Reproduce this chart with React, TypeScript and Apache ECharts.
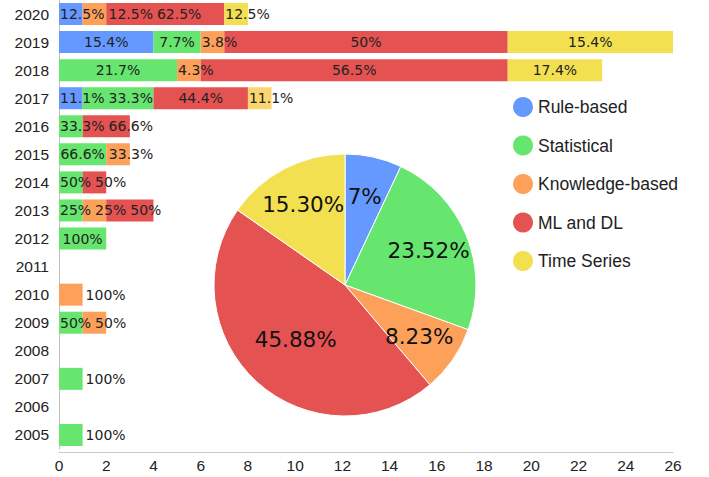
import React, { useEffect, useRef } from "react";
import * as echarts from "echarts";

const years = ["2005","2006","2007","2008","2009","2010","2011","2012","2013","2014","2015","2016","2017","2018","2019","2020"];
const seriesNames = ["Rule-based", "Statistical", "Knowledge-based", "ML and DL", "Time Series"];

const ruleBased =      [0,0,0,0,0,0,0,0,0,0,0,0,1,0,4,1];
const statistical =    [1,0,1,0,1,0,0,2,1,1,2,1,3,5,2,0];
const knowledgeBased = [0,0,0,0,1,1,0,0,1,0,1,0,0,1,1,1];
const mlDl =           [0,0,0,0,0,0,0,0,2,1,0,2,4,13,12,5];
const timeSeries =     [0,0,0,0,0,0,0,0,0,0,0,0,1,4,7,1];

const ruleLabels =      ["","","","","","","","","","","","","11.1%","","15.4%","12.5%"];
const statLabels =      ["100%","","100%","","50%","","","100%","25%","50%","66.6%","33.3%","33.3%","21.7%","7.7%",""];
const knowLabels =      ["","","","","50%","100%","","","25%","","33.3%","","","4.3%","3.8%","12.5%"];
const mlLabels =        ["","","","","","","","","50%","50%","","66.6%","44.4%","56.5%","50%","62.5%"];
const tsLabels =        ["","","","","","","","","","","","","11.1%","17.4%","15.4%","12.5%"];

const pieValues = [7, 23.52, 8.23, 45.88, 15.30];
const pieLabels = ["7%", "23.52%", "8.23%", "45.88%", "15.30%"];

const xTicks = { min: 0, max: 26, interval: 2 };

const colors = ["#6699ff", "#66e66e", "#fca05a", "#e55252", "#f2e050"];

const allValues = [ruleBased, statistical, knowledgeBased, mlDl, timeSeries];
const allLabels = [ruleLabels, statLabels, knowLabels, mlLabels, tsLabels];

const BAR_FONT = 14;
const BAR_FAMILY = "DejaVu Sans";
const PIE_CX = 345;
const PIE_CY = 285;
const PIE_R = 131;
const pieTotal = pieValues.reduce((a, b) => a + b, 0);

let measureCtx: CanvasRenderingContext2D | null = null;
function textWidth(t: string): number {
  if (!measureCtx) {
    const c = document.createElement("canvas");
    measureCtx = c.getContext("2d");
  }
  if (!measureCtx) return t.length * BAR_FONT * 0.6;
  measureCtx.font = `${BAR_FONT}px "${BAR_FAMILY}"`;
  return measureCtx.measureText(t).width;
}

function barLabelLayout(params: any) {
  const s = params.seriesIndex;
  const d = params.dataIndex;
  const v = allValues[s][d];
  if (!v) return {};
  const rect = params.rect;
  const ppu = rect.width / v;
  let cum = 0;
  for (let k = 0; k < s; k++) cum += allValues[k][d];
  const origin = rect.x - cum * ppu;
  const segs: { k: number; L: number; R: number; w: number }[] = [];
  let acc = 0;
  for (let k = 0; k < allValues.length; k++) {
    const val = allValues[k][d];
    if (val > 0) {
      segs.push({ k, L: origin + acc * ppu, R: origin + (acc + val) * ppu, w: textWidth(allLabels[k][d]) });
    }
    acc += val;
  }
  let prevEnd = -Infinity;
  let myX = rect.x;
  for (const sg of segs) {
    let x: number;
    if (segs.length === 1 && sg.w > sg.R - sg.L) {
      x = sg.R + 3;
    } else {
      x = Math.max((sg.L + sg.R) / 2 - sg.w / 2, sg.L + 1, prevEnd + 4);
    }
    prevEnd = x + sg.w;
    if (sg.k === s) myX = x;
  }
  return { x: myX, y: rect.y + rect.height / 2, align: "left", verticalAlign: "middle" };
}

function pieLabelLayout(p: any) {
  const lr = p.labelRect;
  const lx = lr.x + lr.width / 2;
  const ly = lr.y + lr.height / 2;
  const dx = lx - PIE_CX;
  const dy = ly - PIE_CY;
  const len = Math.hypot(dx, dy) || 1;
  const share = pieValues[p.dataIndex] / pieTotal;
  const f = share > 0.4 ? 0.56 : 0.69;
  return {
    x: PIE_CX + (dx / len) * PIE_R * f,
    y: PIE_CY + (dy / len) * PIE_R * f,
    align: "center",
    verticalAlign: "middle",
  };
}

export default function App() {
  const ref = useRef<HTMLDivElement>(null);
  useEffect(() => {
    if (!ref.current) return;
    const chart = echarts.init(ref.current, undefined, { renderer: "svg" });
    const barSeries = seriesNames.map((name, i) => ({
      name,
      type: "bar",
      stack: "total",
      barWidth: 22,
      data: allValues[i].map((v, d) => {
        if (i === 4 && years[d] === "2017") {
          return { value: v, itemStyle: { color: "#fbd56f" } };
        }
        return v;
      }),
      label: {
        show: true,
        position: "inside",
        formatter: (p: any) => allLabels[i][p.dataIndex],
        color: "#222",
        fontSize: BAR_FONT,
        fontFamily: BAR_FAMILY,
        textBorderWidth: 0,
      },
      labelLayout: barLabelLayout,
      emphasis: { disabled: true },
    }));
    chart.setOption({
      animation: false,
      color: colors,
      textStyle: { fontFamily: "Liberation Sans" },
      legend: {
        orient: "vertical",
        left: 508,
        top: 92,
        itemWidth: 20,
        itemHeight: 20,
        itemGap: 18.5,
        icon: "circle",
        data: seriesNames,
        textStyle: { fontSize: 17.5, color: "#222", fontFamily: "Liberation Sans" },
      },
      grid: { left: 59, right: 36, top: 0, bottom: 28, containLabel: false },
      xAxis: {
        type: "value",
        min: xTicks.min,
        max: xTicks.max,
        interval: xTicks.interval,
        offset: 3,
        axisLine: { show: true, lineStyle: { color: "#c8c8c8", width: 1 } },
        axisTick: { show: false },
        splitLine: { show: false },
        axisLabel: { fontSize: 15.5, color: "#222", margin: 5, fontFamily: "Liberation Sans" },
      },
      yAxis: {
        type: "category",
        data: years,
        axisLine: { show: true, lineStyle: { color: "#c0c0c0", width: 1 } },
        axisTick: { show: false },
        axisLabel: { fontSize: 15.5, color: "#222", margin: 10, fontFamily: "Liberation Sans" },
      },
      series: [
        ...barSeries,
        {
          name: "Share",
          type: "pie",
          center: [PIE_CX, PIE_CY],
          radius: [0, PIE_R],
          startAngle: 90,
          clockwise: true,
          data: pieValues.map((v, i) => ({ name: seriesNames[i], value: v })),
          itemStyle: { borderColor: "#fff", borderWidth: 1 },
          label: {
            show: true,
            position: "inside",
            formatter: (p: any) => pieLabels[p.dataIndex],
            fontSize: 21.5,
            color: "#111",
            fontFamily: "DejaVu Sans",
            textBorderWidth: 0,
          },
          labelLine: { show: false },
          labelLayout: pieLabelLayout,
          emphasis: { disabled: true },
        },
      ],
    });
    return () => chart.dispose();
  }, []);
  return (
    <div
      ref={ref}
      style={{ position: "fixed", left: 0, top: 0, width: 709, height: 477, background: "#fff" }}
    />
  );
}
